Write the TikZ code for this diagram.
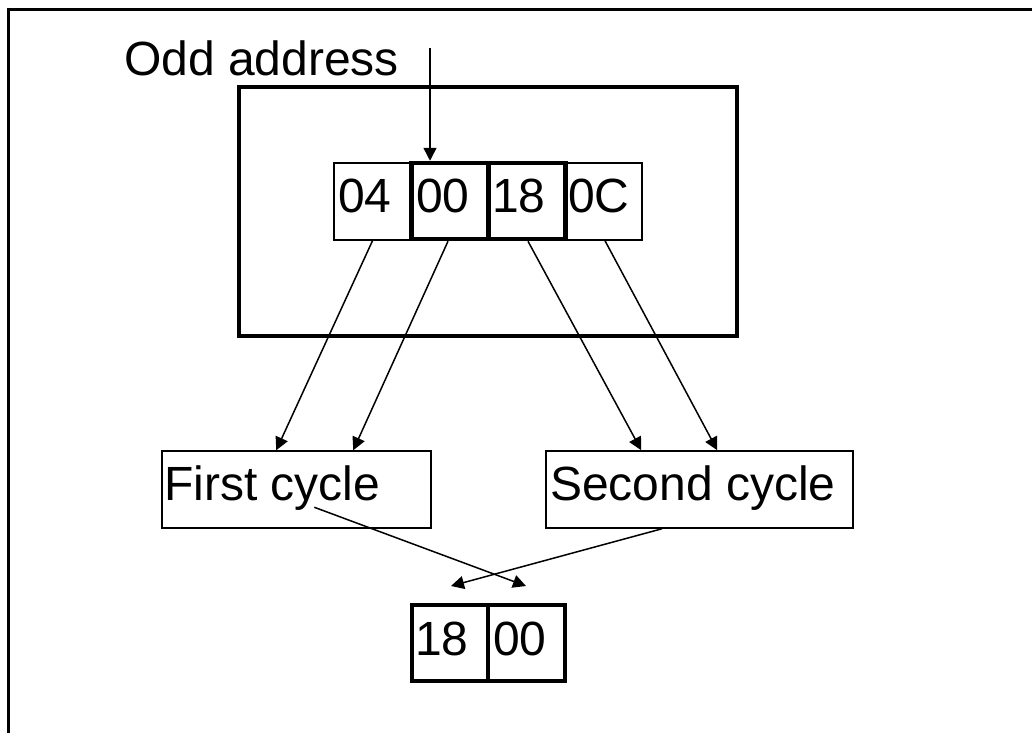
\documentclass[tikz,border=0pt]{standalone}
\usepackage{fontspec}
\setmainfont{Liberation Sans}
\usetikzlibrary{arrows.meta}
\begin{document}
\begin{tikzpicture}[x=1pt,y=-1pt,
  cellthin/.style={draw, line width=1.5pt, inner sep=0pt, minimum width=77pt, minimum height=77pt},
  cellthick/.style={draw, line width=4.5pt, inner sep=0pt, minimum width=77pt, minimum height=76pt},
  cyclebox/.style={draw, line width=1.5pt, inner sep=0pt, minimum height=77pt},
  txt/.style={anchor=base west, inner sep=0pt, font=\fontsize{48}{56}\selectfont},
  conn/.style={line width=1.5pt, -{Triangle[length=13pt,width=13pt]}},
  frameline/.style={line width=2.5pt}
]
\useasboundingbox (0,0) rectangle (1032,733);
% outer frame (cropped at right and bottom)
\draw[frameline] (8.5,733) -- (8.5,9.5) -- (1032,9.5);

% memory block
\node[draw, line width=4.5pt, inner sep=0pt, minimum width=498pt, minimum height=249pt] (mem) at (488,211.5) {};

% cells
\node[cellthin] (c04) at (372.5,201.5) {};
\node[cellthin] (c0C) at (603.5,201.5) {};
\node[cellthick] (c00) at (450,201) {};
\node[cellthick] (c18) at (527,201) {};
\node[txt] (t04) at (338,212) {04};
\node[txt] (t00) at (416,212) {00};
\node[txt] (t18) at (492,212) {18};
\node[txt] (t0C) at (568,212) {0C};

% odd address label and arrow
\node[txt] (odd) at (124,76) {Odd address};
\coordinate (oddtop) at (430,48);
\draw[conn] (oddtop) -- ([xshift=-20pt]c00.north);

% cycle boxes
\node[cyclebox, minimum width=269pt] (first) at (296.5,489.5) {};
\node[cyclebox, minimum width=307pt] (second) at (699.5,489.5) {};
\node[txt] (tfirst) at (164,500) {First cycle};
\node[txt] (tsecond) at (550,500) {Second cycle};

% connectors to cycles
\draw[conn] (c04.south) -- ([xshift=115pt]first.north west);
\draw[conn] ([xshift=-2pt]c00.south) -- ([xshift=192pt]first.north west);
\draw[conn] ([xshift=1pt]c18.south) -- ([xshift=96pt]second.north west);
\draw[conn] ([xshift=1.5pt]c0C.south) -- ([xshift=172pt]second.north west);

% result cells
\node[cellthick, minimum width=76pt] (b18) at (450,643) {};
\node[cellthick] (b00) at (526.5,643) {};
\node[txt] (tb18) at (415,655) {18};
\node[txt] (tb00) at (493,655) {00};

% crossing connectors
\coordinate (tipR) at (526,586);
\coordinate (tipL) at (451,586);
\draw[conn] ([xshift=153pt,yshift=-57pt]first.north west) -- (tipR);
\draw[conn] ([xshift=-37.5pt]second.south) -- (tipL);
\end{tikzpicture}
\end{document}
